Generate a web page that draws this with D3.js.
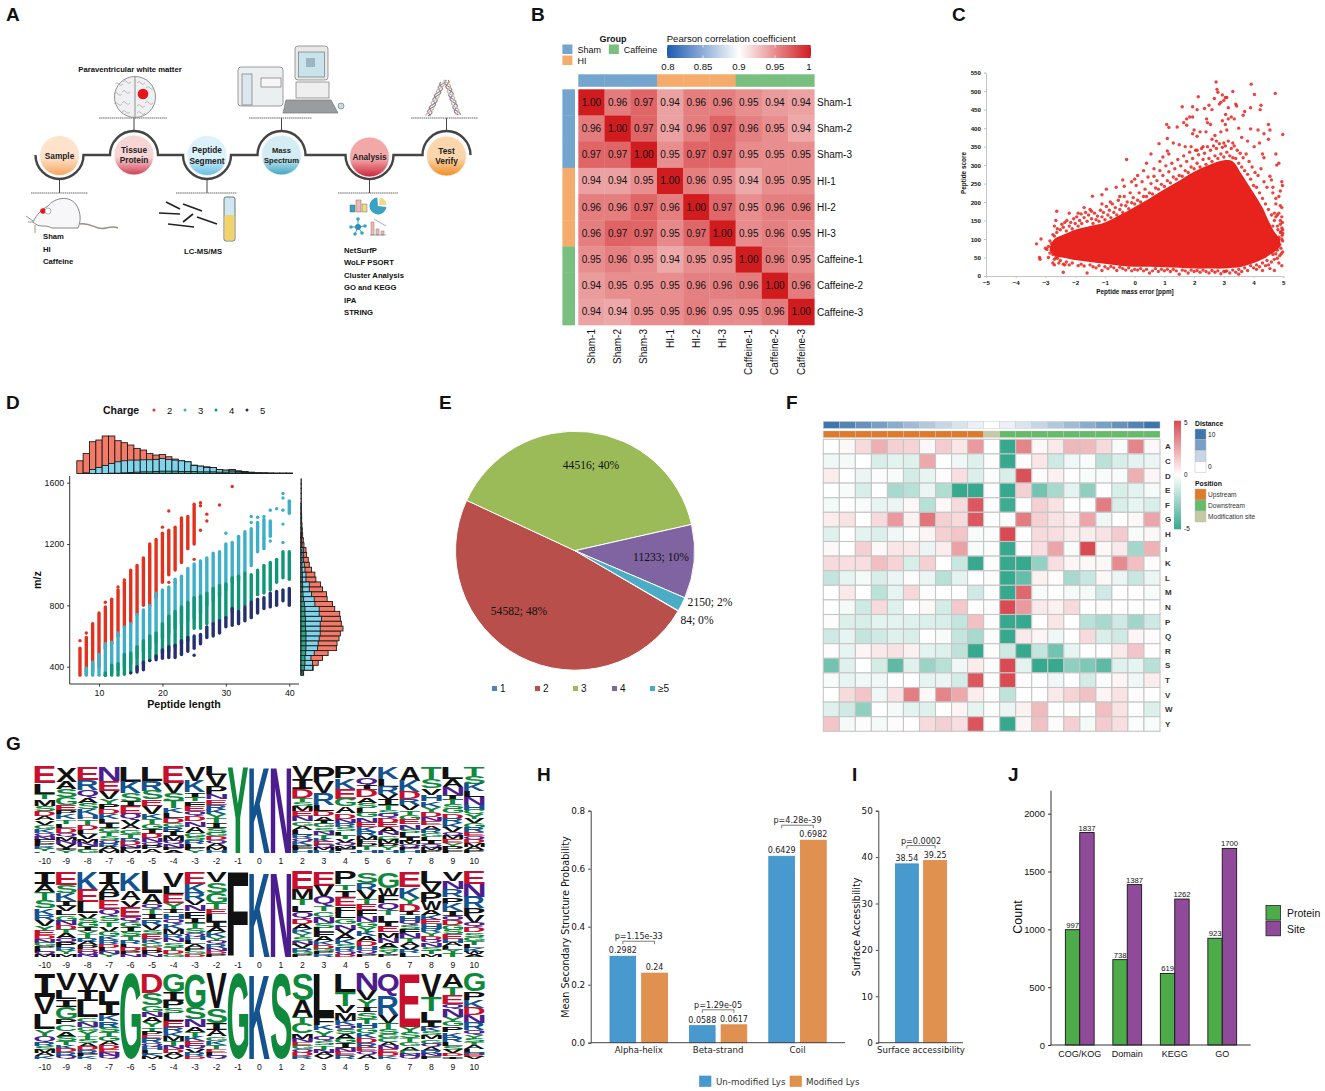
<!DOCTYPE html>
<html>
<head>
<meta charset="utf-8">
<script src="https://cdn.jsdelivr.net/npm/d3@7"></script>
<style>
  html, body { margin: 0; padding: 0; background: #fff; }
  svg { display: block; }
  text { font-family: "Liberation Sans", Arial, sans-serif; fill: #111; }
  .mpl text, text.mpl { font-family: "DejaVu Sans", sans-serif; }
</style>
</head>
<body>
<div id="chart"></div>
<script>
// ---- panel B: correlation matrix
const samples = ["Sham-1", "Sham-2", "Sham-3", "HI-1", "HI-2", "HI-3", "Caffeine-1", "Caffeine-2", "Caffeine-3"];
const sampleGroups = ["Sham", "Sham", "Sham", "HI", "HI", "HI", "Caffeine", "Caffeine", "Caffeine"];
const pearson = [
  [1, .958, .968, .942, .957, .957, .95, .944, .941],
  [.958, 1, .968, .942, .957, .969, .956, .95, .938],
  [.968, .968, 1, .95, .968, .968, .951, .95, .95],
  [.942, .942, .95, 1, .957, .952, .938, .95, .95],
  [.957, .957, .968, .957, 1, .967, .95, .956, .957],
  [.957, .969, .968, .952, .967, 1, .951, .956, .951],
  [.95, .956, .951, .938, .95, .951, 1, .958, .951],
  [.944, .95, .95, .95, .956, .956, .958, 1, .958],
  [.941, .938, .95, .95, .957, .951, .951, .958, 1]
];
const pearsonTicks = [0.8, 0.85, 0.9, 0.95, 1];

// ---- panel C: dense part read as an outline, stray points read one by one
const coreMassError = [-2.85, -2.7, -2.3, -2, -1.5, -1, -.5, 0, .5, 1, 1.5, 2, 2.5, 3, 3.3, 3.6, 4, 4.3, 4.5, 4.7, 4.9];
const coreUpper = [78, 100, 115, 125, 135, 145, 165, 187, 210, 235, 258, 282, 300, 313, 310, 275, 225, 185, 150, 120, 100];
const coreLower = [68, 55, 48, 43, 38, 33, 28, 25, 25, 24, 22, 20, 20, 20, 22, 25, 35, 45, 55, 65, 80];
const strayMassError = [2.74, 2.77, 2.8, 3.92, 4.03, 4.73, 3.3, 2.95, 3, 3.05, 3.1, 2.68, 2.9, 2.85, 3.4, 3.43, 1.6, 1.95, 2.14, 2.1, 2.35, 2.5, 2.6, 3.15, 3.06, 3.9, 4.25, 4.22, 3.7, 3.65, 1.85, 1.75, 1.65, 1.95, 2.42, 3.15, 3.25, 3.35, 2.95, 3.05, 1.08, 1.15, 1.43, 1.75, 2.45, 2.55, 4.5, 4.55, 4.5, 4.98, 2.2, 2, 1.95, 2.1, 2.4, 2.7, 2.9, 3.1, 3.5, 3.9, 4.15, 4.35, 4.2, 4.02, 3.8, 3.6, 3.3, 3, 2.75, 2.6, 2.3, 2.1, 1.9, 1.7, 1.5, 1.3, 1.1, .82, 1.1, 1.15, .95, .55, -.27, .85, .4, .65, .3, .1, 0, -.1, -.4, -.35, -.62, -.95, -1.1, -1.42, -.5, -.82, -1.1, -1.45, -1.7, -1.9, -2.2, -2.62, -2.65, -2.35, -2.7, -3.3, -3.15, -3, -3.2, -3.18, -2.9, -2.75, -2.7, -2.4, -2.35, -1.6, -1.4, -1.1, .5, 1.5, 2.5, 3.5, 3.05, 4.1, 4.3, 4.55, 4.7, 4.85, 4.95, 4.78, 4.85, 4.75, 4.3, 4.35, 4.95, 4.97, 4.9, 4.6, 4.65, 4.75, 4.85, 4.95, 4.9, 4.97, 4.9, 4.98, 4.92, 4.95, 4.85, 4.98, 4.7, 4.8];
const strayScore = [525, 505, 497, 519, 491, 494, 499, 490, 475, 483, 483, 480, 470, 465, 465, 460, 458, 458, 485, 450, 453, 462, 450, 455, 437, 455, 462, 450, 445, 435, 430, 425, 415, 430, 425, 425, 430, 425, 420, 410, 410, 402, 403, 408, 415, 410, 410, 395, 370, 383, 390, 395, 385, 378, 390, 380, 390, 395, 400, 398, 395, 385, 360, 350, 365, 375, 360, 360, 365, 370, 350, 340, 350, 350, 355, 360, 372, 358, 338, 330, 322, 330, 315, 310, 305, 290, 285, 272, 262, 255, 260, 243, 240, 235, 220, 216, 215, 200, 195, 175, 185, 170, 170, 175, 150, 145, 135, 87, 100, 75, 50, 45, 50, 35, 30, 10, 30, 8, 25, 15, 8, 5, 8, 5, 12, 18, 15, 20, 15, 35, 28, 300, 305, 330, 330, 320, 255, 245, 230, 260, 240, 210, 215, 185, 190, 145, 140, 115, 120, 100, 85, 65, 170, 165];
// speckled rim around the dense part [mass error, score]
const rimUpper = [[-2.75, 112], [-2.6, 128], [-2.62, 118], [-2.5, 125], [-2.45, 140], [-2.4, 132], [-2.3, 122], [-2.28, 150], [-2.2, 135], [-2.15, 145], [-2.1, 128], [-2.05, 155], [-2, 142], [-1.95, 160], [-1.9, 135], [-1.85, 150], [-1.8, 168], [-1.78, 142], [-1.7, 158], [-1.65, 172], [-1.6, 148], [-1.55, 165], [-1.5, 180], [-1.45, 155], [-1.4, 142], [-1.35, 170], [-1.3, 152], [-1.25, 162], [-1.2, 148], [-1.15, 178], [-1.1, 160], [-1.05, 172], [-1, 152], [-.95, 188], [-.9, 165], [-.85, 178], [-.8, 158], [-.75, 195], [-.7, 172], [-.65, 185], [-.6, 165], [-.55, 205], [-.5, 180], [-.45, 192], [-.4, 172], [-.35, 215], [-.3, 190], [-.25, 200], [-.2, 182], [-.15, 225], [-.1, 198], [-.05, 212], [0, 195], [.05, 245], [.1, 205], [.15, 225], [.2, 200], [.25, 255], [.3, 215], [.35, 235], [.4, 215], [.45, 268], [.5, 225], [.55, 250], [.6, 222], [.65, 270], [.7, 238], [.75, 258], [.8, 235], [.85, 285], [.9, 248], [.95, 272], [1, 242], [1.05, 298], [1.1, 258], [1.15, 282], [1.2, 252], [1.25, 305], [1.3, 268], [1.35, 290], [1.4, 262], [1.45, 315], [1.5, 272], [1.55, 298], [1.6, 270], [1.65, 325], [1.7, 285], [1.75, 310], [1.8, 280], [1.85, 335], [1.9, 295], [1.95, 318], [2, 290], [2.05, 340], [2.1, 305], [2.15, 328], [2.2, 295], [2.25, 345], [2.3, 315], [2.35, 332], [2.4, 302], [2.45, 350], [2.5, 318], [2.55, 340], [2.6, 310], [2.65, 352], [2.7, 325], [2.75, 345], [2.8, 318], [2.85, 358], [2.9, 330], [2.95, 348], [3, 322], [3.05, 352], [3.1, 335], [3.15, 365], [3.2, 325], [3.25, 345], [3.3, 320], [3.35, 352], [3.4, 318], [3.45, 340], [3.5, 305], [3.55, 332], [3.6, 295], [3.65, 320], [3.7, 285], [3.75, 330], [3.8, 275], [3.85, 310], [3.9, 262], [3.95, 295], [4, 245], [4.05, 280], [4.1, 240], [4.15, 272], [4.2, 225], [4.25, 290], [4.3, 210], [4.35, 255], [4.4, 195], [4.45, 240], [4.5, 180], [4.55, 270], [4.6, 165], [4.65, 225], [4.7, 150], [4.75, 195], [4.8, 135], [4.85, 170], [4.9, 118], [4.95, 160]];
const rimRight = [[4.55, 120], [4.6, 100], [4.65, 135], [4.7, 80], [4.72, 110], [4.75, 160], [4.78, 95], [4.8, 70], [4.82, 125], [4.85, 105], [4.88, 85], [4.9, 150], [4.92, 75], [4.95, 130], [4.96, 110], [4.98, 95], [4.98, 125], [4.93, 60], [4.88, 55], [4.8, 48], [4.75, 60], [4.7, 45], [4.65, 58]];
const rimLower = [[4.6, 38], [4.5, 30], [4.45, 42], [4.4, 28], [4.3, 35], [4.2, 25], [4.1, 30], [4, 22], [3.9, 28], [3.8, 15], [3.7, 22], [3.6, 12], [3.5, 18], [3.4, 10], [3.3, 16], [3.2, 8], [3.1, 14], [3, 12], [2.9, 6], [2.8, 14], [2.7, 10], [2.6, 15], [2.4, 12], [2.3, 16], [2.2, 10], [2.1, 15], [2, 12], [1.9, 16], [1.8, 8], [1.7, 14], [1.6, 16], [1.4, 14], [1.3, 18], [1.2, 12], [1.1, 18], [1, 14], [.9, 18], [.8, 12], [.7, 20], [.6, 14], [.4, 18], [.3, 14], [.2, 20], [.1, 16], [0, 18], [-.1, 14], [-.2, 22], [-.3, 16], [-.4, 20], [-.5, 24], [-.6, 15], [-.7, 22], [-.8, 26], [-.9, 20], [-1, 25], [-1.2, 28], [-1.3, 22], [-1.5, 30], [-1.7, 27], [-1.8, 32], [-1.9, 28], [-2.1, 35], [-2.2, 30], [-2.3, 38], [-2.4, 32], [-2.5, 42], [-2.55, 35], [-2.6, 48], [-2.7, 45]];
const rimLeft = [[-2.85, 95], [-2.8, 88], [-2.9, 80], [-2.85, 62], [-2.8, 70], [-2.75, 58], [-2.95, 72], [-2.65, 50], [-2.7, 108]];

// ---- panel D: m/z spread per peptide length and charge [length, low, high]
const charge2Ranges = [[7, 345, 520], [8, 350, 590], [9, 370, 680], [10, 400, 750], [11, 520, 790], [12, 550, 840], [13, 600, 900], [14, 660, 950], [15, 680, 1030], [16, 740, 1060], [17, 800, 1110], [18, 800, 1190], [19, 850, 1230], [20, 950, 1270], [21, 1000, 1290], [22, 1030, 1310], [23, 1080, 1370], [24, 1170, 1380], [25, 1200, 1460]];
const charge3Ranges = [[8, 345, 390], [9, 345, 430], [10, 345, 480], [11, 345, 550], [12, 360, 560], [13, 380, 620], [14, 400, 660], [15, 420, 680], [16, 460, 740], [17, 500, 770], [18, 520, 800], [19, 560, 880], [20, 590, 900], [21, 620, 920], [22, 650, 970], [23, 680, 990], [24, 700, 1040], [25, 720, 1070], [26, 750, 1090], [27, 800, 1110], [28, 830, 1140], [29, 860, 1150], [30, 900, 1200], [31, 950, 1210], [32, 960, 1250], [33, 1020, 1280], [34, 1060, 1300], [35, 1150, 1340], [36, 1170, 1360], [37, 1250, 1350], [40, 1400, 1480]];
const charge4Ranges = [[11, 345, 360], [12, 345, 410], [13, 345, 420], [14, 350, 480], [15, 360, 490], [16, 380, 530], [17, 420, 570], [18, 440, 600], [19, 460, 620], [20, 490, 680], [21, 500, 730], [22, 530, 760], [23, 550, 790], [24, 570, 820], [25, 650, 850], [26, 650, 860], [27, 680, 880], [28, 680, 910], [29, 700, 930], [30, 720, 940], [31, 760, 980], [32, 770, 990], [33, 800, 1010], [34, 830, 1000], [35, 870, 1030], [36, 880, 1060], [37, 900, 1080], [38, 950, 1100], [39, 980, 1150], [40, 970, 1150]];
const charge5Ranges = [[16, 365, 400], [17, 380, 430], [19, 445, 470], [20, 455, 510], [21, 460, 530], [22, 460, 540], [23, 480, 570], [24, 500, 590], [25, 520, 600], [26, 550, 610], [27, 590, 660], [28, 600, 680], [29, 620, 700], [30, 660, 720], [31, 670, 780], [32, 680, 760], [33, 700, 790], [34, 720, 820], [35, 750, 840], [36, 780, 850], [37, 790, 880], [38, 800, 890], [39, 830, 900], [40, 800, 910]];
const charge2Points = [[7, 570], [8, 620], [11, 820], [13, 920], [14, 965], [18, 1200], [20, 1310], [21, 1415], [21, 950], [22, 950], [25, 1100], [26, 1290], [26, 1470], [26, 1450], [27, 1350], [27, 1395], [29, 1455], [31, 1575]];
const charge3Points = [[30, 1270], [34, 1340], [34, 1380], [35, 1375], [36, 1380], [37, 1420], [38, 1430], [39, 1210], [39, 1330], [39, 1420], [39, 1500], [39, 1530], [40, 1480], [37, 1220], [36, 1240]];
const charge4Points = [[11, 345]];
const charge5Points = [[15, 360], [18, 440], [25, 475], [23, 485], [26, 600]];
const lengths = d3.range(7, 41);
const lengthCharge2 = [38, 60, 95, 100, 112, 112, 98, 92, 85, 75, 70, 60, 55, 57, 50, 43, 38, 35, 25, 22, 20, 18, 12, 10, 12, 8, 6, 4, 2, 2, 1, 1, 1, 1];
const lengthCharge3 = [0, 2, 12, 18, 24, 30, 35, 38, 40, 40, 41, 41, 42, 45, 42, 40, 38, 35, 24, 22, 18, 18, 12, 10, 10, 6, 4, 3, 2, 1, 1, 1, 1, 1];
const lengthCharge4 = [0, 0, 0, 0, 0, 1, 1, 2, 3, 4, 5, 5, 6, 7, 7, 7, 6, 6, 6, 5, 5, 5, 4, 4, 5, 4, 3, 2, 1, 1, 1, 0, 0, 0];
const mzBinStart = d3.range(345, 1600, 32);
const mzCharge2 = [8, 37, 52, 65, 82, 107, 109, 115, 119, 127, 122, 119, 117, 102, 95, 79, 77, 65, 59, 45, 42, 32, 25, 22, 17, 15, 9, 7, 5, 4, 3, 2, 2, 1, 1, 1, 1, 1, 1, 1];
const mzCharge3 = [6, 35, 35, 30, 40, 50, 52, 55, 58, 58, 58, 62, 55, 55, 42, 40, 32, 25, 25, 15, 15, 12, 10, 8, 8, 8, 3, 2, 2, 1, 1, 1, 1, 1, 1, 0, 0, 0, 0, 0];
const mzCharge4 = [3, 10, 12, 12, 14, 15, 15, 15, 15, 14, 13, 14, 12, 12, 10, 8, 6, 5, 5, 4, 4, 3, 3, 3, 3, 3, 1, 1, 1, 0, 0, 0, 0, 0, 0, 0, 0, 0, 0, 0];

// ---- panel E
const chargeLabels = ["1", "2", "3", "4", "≥5"];
const chargeCounts = [84, 54582, 44516, 11233, 2150];
const chargePercents = [0, 48, 40, 10, 2];

// ---- panel F: amino acid enrichment by position
const aminoAcids = ["A", "C", "D", "E", "F", "G", "H", "I", "K", "L", "M", "N", "P", "Q", "R", "S", "T", "V", "W", "Y"];
const distances = [10, 9, 8, 7, 6, 5, 4, 3, 2, 1, 0, 1, 2, 3, 4, 5, 6, 7, 8, 9, 10];
const positions = d3.range(10).map(() => "Upstream").concat(["Modification site"], d3.range(10).map(() => "Downstream"));
const enrichment = [
  [0, .2, 1, 2.2, 1.3, 1.2, .2, 1.4, .7, 2.8, 0, -5, 3.4, .2, .6, 2, 1.9, 1, -.2, 3.4, .2],
  [-.4, -.3, 0, -1, -.7, -.8, 2.4, 0, -.4, -.8, -.1, -5, 0, .7, -1.2, -.4, -.2, -1.7, -1, -.7, -.5],
  [.5, 0, -.5, -.1, -.2, -1.1, -.6, .1, .9, -.9, -.1, -1, 4.8, .1, .4, 0, -.2, -.2, -.2, 2.2, .3],
  [0, -.2, -1, 0, -2.2, -1.8, -.5, -2, -5, -5, -.1, -5, 1.3, -3.5, -2.2, -.7, -2.8, 0, -1, -.7, -.3],
  [-.3, 0, -.2, -.6, -.5, .2, -1.8, .2, 1, 4.6, -.1, -4.8, 0, 1.3, .8, 0, 0, 3.6, -1, -.6, -1],
  [.5, .8, 0, 1, 2.8, .4, 3.8, 1.3, 1, 4.6, -.1, -.1, 3.6, 1.3, .8, .5, 2.5, -.4, 0, .2, 2.5],
  [-.8, 0, -.7, -.9, -.4, -.1, .3, 1.3, 1.6, -.2, -.1, 5, 0, 1, .9, .5, .5, .8, 1.4, -.2, .2],
  [.2, 0, 1.3, .2, .7, .6, -.5, .5, 2.6, -.2, -.1, -5, .1, .9, 2.5, -.2, 5, .2, .6, -2.3, 2.1],
  [1, .9, .9, 1.8, 1.2, -1, 1.3, 0, -1.4, -5, -.1, -5, -5, -2.7, .9, .3, .2, .2, 3.2, 1.8, .1],
  [-1.5, -.6, -.3, -1, -.5, -.1, -.5, -1.8, -.7, 0, -.1, -5, -3.8, .4, .1, -2.2, -1.4, .2, -.5, -1.4, -.5],
  [0, .6, 0, -1.7, -.6, 1.1, -.1, 0, 0, -1.2, -.1, -5, 4.2, -.2, 0, -.3, -.3, -1.2, 0, 0, -.2],
  [0, -.3, -1.2, 1, -.8, 0, .2, -1.1, 1.5, 0, -.1, 5, 2.8, .6, .4, 1, 0, .1, 0, 0, 0],
  [-.1, -.9, -1, -.7, -.7, -.8, -.9, -1, -1.5, 1.7, -.1, -5, -5, 0, .7, 0, -1.7, -2.2, -1.2, -2.4, -1.2],
  [-1.2, -.6, -1.5, -1.2, -.8, -1, 0, -.2, -1.5, -2.2, -.1, -5, .6, .3, -.4, 0, 1, -1, -1.2, .3, .1],
  [.1, -.6, .3, .6, .8, .4, -.7, -.8, -1.6, -5, -.1, -1.2, -5, -1.5, -3.5, -.6, 0, 0, .6, 1.6, 0],
  [-3.5, -.8, 0, -1.1, -4, -.8, -2.5, -1.8, -.4, .5, -.1, 5, -.7, -5, -5, -2.8, -3.2, -4, -.8, -.6, -1.8],
  [-.2, -.6, -.4, -.4, 0, 0, -.6, -.5, -1.1, 4.6, -.1, 5, .1, 0, -.4, 0, -1.1, -.1, .3, -.4, .5],
  [0, 1, 1.6, -.4, .8, 3.6, .2, 3.4, 2.4, .5, -.1, -1.6, 0, 0, .6, 1.2, 1.7, .3, .8, .1, 0],
  [-.8, -1.2, -2.8, 0, -.3, -.7, -.8, 0, .3, -.6, -.1, -.5, .4, 1.9, 0, -.1, 0, 1.8, .8, 0, -.9],
  [1.6, -.3, .1, -.3, .1, 0, 1, 1.3, .9, 4.7, 0, -5, .3, 1.7, .1, 1.3, -.3, 1.4, .9, -.1, -.2]
];

// ---- panel G: motif logos, each column top to bottom as letter + relative height
const logoPositions = d3.range(-10, 11);
const logoYKN = ["E19 L12 T6 M8 S6 D6 A5 V5 G5 K5 Q4 N4 F4 P3 R3 Y3 H2", "X17 A9 S9 G9 E6 P5 K6 T5 L5 D6 Q4 M5 N4 V4 I3 Y3", "E15 R12 Q9 A6 S7 K7 H5 T6 D6 L5 V6 M4 N4 I4 G4", "N17 E12 V9 Y6 P6 D6 K6 L5 I5 G5 T5 S5 Q4 R4 A4 M3", "L17 K13 S10 I5 E8 Q7 V6 A5 G5 T5 R4 D4 N3 P3 M3", "L16 R11 S10 E7 V9 K6 T6 G6 I5 D5 N5 Q4 P4 A4", "E18 V11 S9 T8 K6 L5 D6 G5 R5 I5 M5 Q4 N4 P3 A3", "V15 K13 I6 T4 F6 E5 Q5 D6 N6 A7 G4 S4 R4 L4 P3 Y3", "L9 V12 P8 N6 E6 R5 K5 Y5 T5 I5 S5 G4 D4 Q4 A4 M3 H3", "Y100", "K100", "N100", "V14 I11 D10 T5 S5 M5 E6 N6 G5 A5 L5 R4 Q4 K4 P3 F3 H3", "P18 V13 R14 L7 D6 A5 I4 G4 S5 N4 T4 K4 E4 Q3 M3 H3", "P13 K12 E12 G9 A8 D6 N5 R5 S5 L5 T4 V4 Q4 M3 F3 H2", "V11 Q10 I5 D8 A6 S6 L5 G5 N6 E5 K5 R5 M4 F4 P4 T4 H3", "K13 L9 R8 V6 I7 T5 S5 Q5 D5 E5 A5 N4 G5 M4 P4 Y4 H3", "A16 K13 D8 R7 V6 T5 G6 E5 N6 S4 L5 I4 M4 Q4 P3 H3", "T14 S11 V8 H7 K6 Y6 D6 N5 E5 A5 R4 G4 L5 I4 Q4 M3 P3", "L13 A9 N9 I5 T5 S5 G5 D6 R5 K5 V5 Q4 M4 E4 Y4 P4 F3", "T10 S9 K8 L7 N8 H6 C5 Y5 V5 G5 R5 E4 Q4 D4 M4 A4 P3"];
const logoFKN = ["I13 A9 T9 S9 K7 R6 V7 Y5 E5 D4 N4 G4 P3 L3 Q3 M3", "E15 S9 K9 I5 V6 L5 G6 N5 D5 T5 A5 Q5 P5 R4 Y4 M3", "K20 E14 L12 V6 S5 G5 I4 Y4 T4 R4 A4 P4 D3 Q3 N3", "I13 A9 P8 E10 Q7 S6 T6 V5 G5 K4 R4 D4 L4 N3 Y3", "K20 A10 V7 E11 Q6 G5 I5 S5 T4 R4 L4 D4 P3 N3", "L24 A12 Q6 T6 I6 R6 V6 S5 E5 K5 G5 D4 P4 N3", "V14 L7 E9 Y6 I4 H5 Q5 K5 M5 R4 N4 S4 T4 D3 G3", "E12 K9 R8 V5 N6 F7 I5 T5 S5 Q4 H4 L4 A4 P3 G3 D3", "V10 S11 G10 T6 E5 L8 I5 A5 K5 Y4 Q3 R4 N3 D3 P3", "F100", "K100", "N100", "E20 M12 T7 L8 Q7 D6 A6 K5 Y5 S5 N4 V4 R4 G3 P3", "E15 V12 Q10 T6 C6 N7 S5 L5 F5 A5 K4 D4 G3 P3 R3", "P13 T6 I8 E9 F7 L6 G6 N6 V5 A5 K5 S4 R4 Q3 D3", "S11 R8 V9 T5 E6 F6 N6 G5 Y5 K5 A5 D5 H4 Q4 P3", "G17 W8 F8 Q8 T5 L7 I5 E6 M6 N5 A5 S4 Y3 P3", "E17 K12 Y7 D9 I4 H6 Q5 S5 F5 N5 T5 A4 V4 R4 L4", "L12 V10 P11 W9 A5 K5 E5 H5 R4 Y4 D4 Q4 N4 S4 T4 M3", "V10 N9 R9 P7 K8 I6 Q5 D5 G5 S5 E5 H4 A4 L4 Y4 T4", "E14 N14 R13 P9 V8 Q5 D6 S5 G5 T4 L4 K4 W3 A3"];
const logoGKS = ["I27 V20 L18 Y8 Q7 R5 S4 M4 A4 K3", "V17 L10 I8 G13 P6 C7 A6 S5 T4 K4 D4 R4 Q3", "V18 I13 L18 C5 N6 G5 Y5 T4 S4 A4 D4 R4 F3 K3", "V19 L12 I13 K7 R7 S5 T5 G5 A4 D4 E4 N4 Q3", "G100", "D22 S14 G7 N6 A6 Y6 T5 P4 E4 R5 Q4 H4 L4 K3 M3", "G20 I10 P8 S6 L8 E7 R6 K5 M5 T5 N4 D4 A4 V3", "G38 S13 N8 A6 T5 K5 E5 Q4 V4 R4 D3", "V39 S17 I8 A7 G5 K5 T5 E4 L4 Q3", "G100", "K100", "S100", "S30 A19 T7 C12 M6 N4 E4 G4 Q4 D4 R3", "L50 F9 K6 Y8 Q5 S5 T5 N4 A4 V3", "L20 T15 V8 M8 K5 Q5 S5 A5 G5 I5 N4 E4 R4", "N17 V10 Y8 I5 S7 T5 H5 G5 K5 D5 R5 E4 Q4 A4", "Q25 R22 V9 T7 S6 G5 C5 A4 N4 E4 D4 K3", "E62 Y6 S7 T5 G5 A5 C4 N3 Q3", "V27 T17 L12 I6 K5 S5 M5 G5 Q4 A4 R4 N3 F3", "A14 T8 E10 Q6 N8 Y5 G5 P6 K6 R5 L4 S4 V4 D3 I3", "G20 P9 K9 D8 N9 R8 Q6 Y4 S4 T4 A4 L4 H3 E2 V2"];

// ---- panels H, I, J
const structureTypes = ["Alpha-helix", "Beta-strand", "Coil"];
const unmodifiedProb = [0.2982, 0.0588, 0.6429];
const modifiedProb = [0.24, 0.0617, 0.6982];
const structurePvalues = ["p=1.15e-33", "p=1.29e-05", "p=4.28e-39"];
const unmodifiedAccess = [38.54];
const modifiedAccess = [39.25];
const accessPvalues = ["p=0.0002"];
const databases = ["COG/KOG", "Domain", "KEGG", "GO"];
const proteinCounts = [997, 738, 619, 923];
const siteCounts = [1837, 1387, 1262, 1700];

const svg = d3.select("#chart").append("svg").attr("width", 1325).attr("height", 1091).attr("viewBox", "0 0 1325 1091");
const defs = svg.append("defs");

function label(parent, x, y, str, size, opts = {}) {
  return parent.append("text").attr("x", x).attr("y", y).text(str)
    .attr("font-size", size)
    .attr("font-weight", opts.bold ? "bold" : null)
    .attr("text-anchor", opts.anchor || "start")
    .attr("class", opts.cls || null);
}

function vLabel(parent, x, y, str, size, opts = {}) {
  return parent.append("text").attr("transform", `translate(${x},${y}) rotate(-90)`).text(str)
    .attr("font-size", size)
    .attr("font-weight", opts.bold ? "bold" : null)
    .attr("text-anchor", opts.anchor || "middle")
    .attr("class", opts.cls || null);
}

// panel letters
[["A", 6, 21], ["B", 531, 21], ["C", 952, 21], ["D", 6, 409], ["E", 439, 409], ["F", 786, 409], ["G", 6, 750], ["H", 537, 781], ["I", 852, 781], ["J", 1008, 781]]
  .forEach(d => label(svg, d[1], d[2], d[0], 19, { bold: true }));

drawWorkflow(svg.append("g"));
drawCorrelation(svg.append("g"));
drawScoreScatter(svg.append("g"));
drawLengthScatter(svg.append("g"));
drawPie(svg.append("g"));
drawEnrichment(svg.append("g"));
drawLogos(svg.append("g"));
drawStructureBars(svg.append("g").attr("class", "mpl"));
drawCountBars(svg.append("g"));

/* Panel A - workflow schematic */
function drawWorkflow(g) {
  const steps = [
    { name: ["Sample"], x: 59.5, y: 155.5, c: ["#fde3cc", "#f6a45c"], down: true, dash: [31, 88] },
    { name: ["Tissue", "Protein"], x: 134, y: 155, c: ["#f8d5d5", "#cf3f55"], down: false, dash: [99, 167] },
    { name: ["Peptide", "Segment"], x: 207, y: 155.5, c: ["#dcf2fb", "#64bde3"], down: true, dash: [176, 237] },
    { name: ["Mass", "Spectrum"], x: 281.5, y: 155, c: ["#d4edf4", "#3ea6c2"], down: false, dash: [249, 312] },
    { name: ["Analysis"], x: 369.5, y: 157, c: ["#f3a8a8", "#c9243a"], down: true, dash: [338, 398] },
    { name: ["Test", "Verify"], x: 446.5, y: 156, c: ["#fbd6ad", "#f18d24"], down: false, dash: [411, 478] }
  ];
  // track: half circles joined by straight pieces
  let d = "";
  steps.forEach((s, i) => {
    const r = 24;
    d += `${i ? "L" : "M"}${s.x - r},155 A${r},${r} 0 0 ${s.down ? 0 : 1} ${s.x + r},155 `;
  });
  g.append("path").attr("d", d).attr("fill", "none").attr("stroke", "#444").attr("stroke-width", 2.4);

  steps.forEach((s, i) => {
    const grad = defs.append("linearGradient").attr("id", "step" + i).attr("x1", 0).attr("x2", 0).attr("y1", 0).attr("y2", 1);
    grad.append("stop").attr("offset", "0%").attr("stop-color", s.c[0]);
    grad.append("stop").attr("offset", "55%").attr("stop-color", s.c[0]);
    grad.append("stop").attr("offset", "100%").attr("stop-color", s.c[1]);
    g.append("circle").attr("cx", s.x).attr("cy", s.y).attr("r", 20).attr("fill", `url(#step${i})`).attr("stroke", "#fff").attr("stroke-width", .8);
    const y0 = s.down ? 179 : 131, y1 = s.down ? 193 : 118;
    g.append("line").attr("x1", s.x).attr("x2", s.x).attr("y1", y0).attr("y2", y1).attr("stroke", "#444").attr("stroke-width", 1);
    g.append("line").attr("x1", s.dash[0]).attr("x2", s.dash[1]).attr("y1", y1).attr("y2", y1)
      .attr("stroke", "#666").attr("stroke-width", 1).attr("stroke-dasharray", "1.5 .6");
    s.name.forEach((t, k) => {
      const size = s.name[0] === "Mass" ? 7.6 : 8.3;
      const yy = s.y + 3 + (k - (s.name.length - 1) / 2) * 10.5;
      label(g, s.x, yy, t, size, { bold: true, anchor: "middle" }).style("fill", "#222");
    });
  });

  label(g, 130, 72, "Paraventricular white matter", 7.7, { bold: true, anchor: "middle" });
  [["Sham", 239], ["HI", 252], ["Caffeine", 264]].forEach(t => label(g, 43, t[1], t[0], 7.7, { bold: true }));
  label(g, 184, 254, "LC-MS/MS", 7.7, { bold: true });
  ["NetSurfP", "WoLF PSORT", "Cluster Analysis", "GO and KEGG", "IPA", "STRING"]
    .forEach((t, i) => label(g, 344, 253 + i * 12.4, t, 7.7, { bold: true }));

  // brain
  const brain = g.append("g");
  brain.append("ellipse").attr("cx", 135).attr("cy", 97).attr("rx", 20.5).attr("ry", 20.5).attr("fill", "#f0f0f2").attr("stroke", "#777").attr("stroke-width", .8);
  brain.append("line").attr("x1", 135).attr("x2", 135).attr("y1", 77).attr("y2", 117).attr("stroke", "#666").attr("stroke-width", .7);
  [[120, 84], [128, 82], [119, 94], [127, 92], [119, 104], [127, 103], [142, 83], [151, 88], [142, 106], [150, 103], [127, 112], [142, 113]].forEach(p => {
    brain.append("path").attr("d", `M${p[0] - 5},${p[1]} q2,-3 4,0 t4,0`).attr("fill", "none").attr("stroke", "#999").attr("stroke-width", .6);
  });
  brain.append("circle").attr("cx", 143).attr("cy", 94).attr("r", 5.3).attr("fill", "#e8141c");

  // rat
  const rat = g.append("g");
  rat.append("path").attr("d", "M80,224 C92,222 96,231 106,228 C110,227 114,226 118,228").attr("fill", "none").attr("stroke", "#9b8f84").attr("stroke-width", 1.4);
  rat.append("path").attr("d", "M33,222 C37,214 42,209 48,206 C54,198 70,194 77,206 C81,213 81,222 78,228 L52,228 C48,226 46,226 42,226 C38,226 35,224 33,222 Z")
    .attr("fill", "#f7f7f9").attr("stroke", "#555").attr("stroke-width", .7);
  rat.append("path").attr("d", "M33,221 L26,216 M33,222 L28,222 M35,225 L35,233").attr("stroke", "#555").attr("stroke-width", .6).attr("fill", "none");
  rat.append("circle").attr("cx", 43).attr("cy", 211).attr("r", 2.8).attr("fill", "#e8141c");
  rat.append("circle").attr("cx", 48).attr("cy", 211).attr("r", 3).attr("fill", "#fff").attr("stroke", "#777").attr("stroke-width", .5);

  // peptides and tube
  [[166, 202, 180, 209], [183, 204, 202, 211], [159, 213, 180, 214], [183, 222, 193, 214], [197, 217, 217, 224], [168, 224, 194, 227]].forEach(l => {
    g.append("line").attr("x1", l[0]).attr("y1", l[1]).attr("x2", l[2]).attr("y2", l[3]).attr("stroke", "#222").attr("stroke-width", 1.7);
  });
  g.append("rect").attr("x", 224).attr("y", 197).attr("width", 11).attr("height", 44).attr("rx", 2).attr("fill", "#cfe7f1").attr("stroke", "#555").attr("stroke-width", .8);
  g.append("rect").attr("x", 224.5).attr("y", 215).attr("width", 10).attr("height", 25.5).attr("rx", 2).attr("fill", "#f2d36a");

  // mass spectrometer and computer
  const ms = g.append("g").attr("stroke", "#777").attr("stroke-width", .7);
  ms.append("rect").attr("x", 238).attr("y", 67).attr("width", 45).attr("height", 39).attr("rx", 3).attr("fill", "#eceff0");
  ms.append("rect").attr("x", 242).attr("y", 74).attr("width", 10).attr("height", 31).attr("fill", "#dbe7ec");
  ms.append("rect").attr("x", 261).attr("y", 78).attr("width", 20).attr("height", 9).attr("fill", "#f7f7f7");
  ms.append("rect").attr("x", 295).attr("y", 46).attr("width", 33).attr("height", 34).attr("rx", 3).attr("fill", "#e8e8e8");
  ms.append("rect").attr("x", 298.5).attr("y", 52).attr("width", 26).attr("height", 25).attr("fill", "#c9e3ec");
  ms.append("rect").attr("x", 306).attr("y", 58).attr("width", 9).attr("height", 9).attr("fill", "#9db5bf").attr("stroke", "none");
  ms.append("rect").attr("x", 296).attr("y", 82).attr("width", 33).attr("height", 16).attr("fill", "#efefef");
  ms.append("path").attr("d", "M286,100 L331,100 L338,113 L283,113 Z").attr("fill", "#9a9d9f");
  ms.append("circle").attr("cx", 341).attr("cy", 106).attr("r", 3).attr("fill", "#bfe0ea");

  // DNA strands
  const strand = (x0, y0, x1, y1, col, phase) => {
    const pts = d3.range(0, 1.01, .04).map(t => {
      const w = 2.6 * Math.sin(t * 18 + phase);
      return [x0 + (x1 - x0) * t + w, y0 + (y1 - y0) * t];
    });
    g.append("path").attr("d", d3.line()(pts)).attr("fill", "none").attr("stroke", col).attr("stroke-width", 1.1);
  };
  [["#b5617a", 0], ["#6a8fb0", 2], ["#c9b78d", 4]].forEach(s => {
    strand(428, 116, 443, 82, s[0], s[1]);
    strand(446, 80, 458, 115, s[0], s[1] + 1);
  });

  // analysis icons
  const icons = g.append("g");
  [[350, 205, 5, 7, "#38a3c4"], [356, 200, 5, 12, "#f2b9b2"], [362, 204, 5, 8, "#f1d98a"]].forEach(b => {
    icons.append("rect").attr("x", b[0]).attr("y", b[1]).attr("width", b[2]).attr("height", b[3]).attr("fill", b[4]).attr("stroke", "#555").attr("stroke-width", .4);
  });
  icons.append("path").attr("d", d3.arc()({ innerRadius: 0, outerRadius: 8.5, startAngle: 1.7, endAngle: 6.2 })).attr("transform", "translate(378,206)").attr("fill", "#38a3c4");
  icons.append("path").attr("d", d3.arc()({ innerRadius: 0, outerRadius: 7.5, startAngle: 0.1, endAngle: 1.6 })).attr("transform", "translate(379,205)").attr("fill", "#f1d98a");
  [[351, 227], [358, 219], [365, 226], [355, 234], [362, 233]].forEach(p => {
    icons.append("line").attr("x1", 358).attr("y1", 227).attr("x2", p[0]).attr("y2", p[1]).attr("stroke", "#38a3c4").attr("stroke-width", 1);
    icons.append("circle").attr("cx", p[0]).attr("cy", p[1]).attr("r", 1.8).attr("fill", "#38a3c4");
  });
  icons.append("circle").attr("cx", 358).attr("cy", 227).attr("r", 3).attr("fill", "#2a8fb0");
  [[371, 222, 3, 13, "#f2b9b2"], [376, 229, 3, 6, "#f2b9b2"], [381, 231, 3, 4, "#f2b9b2"]].forEach(b => {
    icons.append("rect").attr("x", b[0]).attr("y", b[1]).attr("width", b[2]).attr("height", b[3]).attr("fill", b[4]).attr("stroke", "#666").attr("stroke-width", .4);
  });
  icons.append("path").attr("d", "M370,235 L386,235 M374,219 L386,226").attr("stroke", "#777").attr("stroke-width", .6);
}

/* Panel B - Pearson correlation heatmap */
function drawCorrelation(g) {
  const x = d3.scaleBand().domain(samples).range([578.3, 814.3]);
  const y = d3.scaleBand().domain(samples).range([89.3, 325]);
  const color = d3.scaleLinear().domain([0.8, 0.9, 1]).range(["#1d5bb0", "#ffffff", "#d01c1f"]);
  const groupColor = d3.scaleOrdinal().domain(["Sham", "HI", "Caffeine"]).range(["#73a5cf", "#f5ab6b", "#78bf80"]);

  pearson.forEach((row, i) => row.forEach((v, j) => {
    g.append("rect").attr("x", x(samples[j])).attr("y", y(samples[i])).attr("width", x.bandwidth() + .3).attr("height", y.bandwidth() + .3).attr("fill", color(v));
    label(g, x(samples[j]) + x.bandwidth() / 2, y(samples[i]) + y.bandwidth() / 2 + 3.5, v.toFixed(2), 10, { anchor: "middle" });
  }));

  samples.forEach((s, i) => {
    g.append("rect").attr("x", x(s)).attr("y", 74.3).attr("width", x.bandwidth() + .3).attr("height", 12.5).attr("fill", groupColor(sampleGroups[i]));
    g.append("rect").attr("x", 562.4).attr("y", y(s)).attr("width", 12.6).attr("height", y.bandwidth() + .3).attr("fill", groupColor(sampleGroups[i]));
    label(g, 817, y(s) + y.bandwidth() / 2 + 3.6, s, 10);
    vLabel(g, x(s) + x.bandwidth() / 2 + 3.5, 329, s, 10, { anchor: "end" });
  });

  // legends
  label(g, 613, 42, "Group", 9, { bold: true, anchor: "middle" });
  [["Sham", 562.4, 44.5], ["HI", 562.4, 55.5], ["Caffeine", 608.8, 44.5]].forEach(d => {
    g.append("rect").attr("x", d[1]).attr("y", d[2]).attr("width", 10).attr("height", 9.5).attr("fill", groupColor(d[0]));
    label(g, d[1] + 15, d[2] + 8, d[0], 9);
  });
  label(g, 666.7, 42, "Pearson correlation coefficient", 9.6);
  const bar = d3.scaleLinear().domain([0.8, 1]).range([667, 811]);
  const barGrad = defs.append("linearGradient").attr("id", "pearsonBar");
  [0.8, 0.9, 1].forEach(v => barGrad.append("stop").attr("offset", (bar(v) - 667) / 144).attr("stop-color", color(v)));
  g.append("rect").attr("x", 667).attr("y", 45).attr("width", 144).attr("height", 13).attr("fill", "url(#pearsonBar)");
  pearsonTicks.forEach(t => {
    g.append("line").attr("x1", bar(t)).attr("x2", bar(t)).attr("y1", 45).attr("y2", 47.5).attr("stroke", "#fff").attr("stroke-width", .7);
    g.append("line").attr("x1", bar(t)).attr("x2", bar(t)).attr("y1", 55.5).attr("y2", 58).attr("stroke", "#fff").attr("stroke-width", .7);
    const tx = t === 1 ? bar(t) - 2 : bar(t) + (t === 0.8 ? 1 : 0);
    label(g, tx, 70, String(t), 9.6, { anchor: "middle" });
  });
}

/* Panel C - peptide score vs mass error */
function drawScoreScatter(g) {
  const x = d3.scaleLinear().domain([-5, 5]).range([986, 1283.3]);
  const y = d3.scaleLinear().domain([0, 550]).range([276, 72.7]);
  const red = "#e8221c";

  const core = d3.area().curve(d3.curveCatmullRom)
    .x((d, i) => x(coreMassError[i])).y1((d, i) => y(coreUpper[i])).y0((d, i) => y(coreLower[i]))(coreMassError);
  g.append("path").attr("d", core).attr("fill", red);

  const strays = strayScore.map((s, i) => [strayMassError[i], s]).concat(rimUpper, rimRight, rimLower, rimLeft);
  g.selectAll("circle.stray").data(strays).enter().append("circle").attr("class", "stray")
    .attr("cx", d => x(d[0])).attr("cy", d => y(d[1])).attr("r", 1.7)
    .attr("fill", red).attr("fill-opacity", .85);

  const axX = g.append("g").attr("transform", "translate(0,276)").call(d3.axisBottom(x).ticks(10).tickSize(2).tickFormat(d3.format("d")));
  const axY = g.append("g").attr("transform", "translate(986,0)").call(d3.axisLeft(y).tickValues(d3.range(0, 551, 50)).tickSize(2));
  [axX, axY].forEach(a => {
    a.selectAll("text").attr("font-size", 6.2).attr("font-weight", "bold").attr("font-family", "Liberation Sans");
    a.selectAll("path,line").attr("stroke", "#c4c4c4");
  });
  vLabel(g, 966, 173, "Peptide score", 6.4, { bold: true });
  label(g, 1135, 294, "Peptide mass error [ppm]", 6.4, { bold: true, anchor: "middle" });
}

/* Panel D - m/z vs peptide length with marginal histograms */
function drawLengthScatter(g) {
  const x = d3.scaleLinear().domain([10, 40]).range([99, 289.3]);
  const y = d3.scaleLinear().domain([400, 1600]).range([666.7, 482.7]);
  const colors = { 2: "#e2311d", 3: "#3eafc9", 4: "#0f9678", 5: "#26306f" };
  const layers = [[2, charge2Ranges, charge2Points], [3, charge3Ranges, charge3Points], [4, charge4Ranges, charge4Points], [5, charge5Ranges, charge5Points]];

  layers.forEach(l => {
    g.selectAll(null).data(l[1]).enter().append("line")
      .attr("x1", d => x(d[0])).attr("x2", d => x(d[0])).attr("y1", d => y(d[1])).attr("y2", d => y(d[2]))
      .attr("stroke", colors[l[0]]).attr("stroke-width", 3.4).attr("stroke-linecap", "round");
    g.selectAll(null).data(l[2]).enter().append("circle")
      .attr("cx", d => x(d[0])).attr("cy", d => y(d[1])).attr("r", 1.7).attr("fill", colors[l[0]]);
  });

  const axX = g.append("g").attr("transform", "translate(0,684)").call(d3.axisBottom(x).tickValues([10, 20, 30, 40]).tickSize(2.5));
  const axY = g.append("g").attr("transform", "translate(69.7,0)").call(d3.axisLeft(y).tickValues([400, 800, 1200, 1600]).tickSize(2.5).tickFormat(d3.format("d")));
  axX.select(".domain").attr("d", "M69.7,0H299");
  axY.select(".domain").attr("d", "M0,476V684");
  [axX, axY].forEach(a => {
    a.selectAll("text").attr("font-size", 8.8).attr("font-family", "Liberation Sans");
    a.selectAll("path,line").attr("stroke", "#333").attr("stroke-width", 1);
  });
  label(g, 184, 708, "Peptide length", 10.7, { bold: true, anchor: "middle" });
  vLabel(g, 41, 580, "m/z", 10.7, { bold: true });

  // legend
  label(g, 103, 414, "Charge", 10.5, { bold: true });
  [[2, 154, 167], [3, 185, 198], [4, 216, 229], [5, 247, 260]].forEach(d => {
    g.append("circle").attr("cx", d[1]).attr("cy", 410).attr("r", 1.5).attr("fill", colors[d[0]]);
    label(g, d[2], 414, d[0], 9.5);
  });

  // top marginal, bars per length, not stacked
  const hTop = d3.scaleLinear().domain([0, 112]).range([473.5, 436]);
  const fills = ["#f27a66", "#7fd3ea", "#27a88c"];
  [lengthCharge2, lengthCharge3, lengthCharge4].forEach((vals, k) => {
    g.selectAll(null).data(vals).enter().append("rect")
      .attr("x", (d, i) => x(lengths[i]) - 3.17).attr("width", 6.34)
      .attr("y", d => hTop(d)).attr("height", d => hTop(0) - hTop(d))
      .attr("fill", fills[k]).attr("stroke", "#1c1c1c").attr("stroke-width", .9);
  });

  // right marginal, bars per m/z bin
  const hRight = d3.scaleLinear().domain([0, 127]).range([301, 343]);
  [mzCharge2, mzCharge3, mzCharge4].forEach((vals, k) => {
    g.selectAll(null).data(vals).enter().append("rect")
      .attr("x", 301).attr("width", d => hRight(d) - 301)
      .attr("y", (d, i) => y(mzBinStart[i] + 32)).attr("height", y(345) - y(377))
      .attr("fill", fills[k]).attr("stroke", "#1c1c1c").attr("stroke-width", .9);
  });
}

/* Panel E - charge state pie */
function drawPie(g) {
  const colors = ["#4f81bd", "#b94f4a", "#9bbb59", "#8064a2", "#4bacc6"];
  const start = 120.1 * Math.PI / 180;
  const pie = d3.pie().sort(null).startAngle(start).endAngle(start + 2 * Math.PI);
  const arc = d3.arc().innerRadius(0).outerRadius(119.5);
  const c = g.append("g").attr("transform", "translate(575,550.7)");
  c.selectAll("path").data(pie(chargeCounts)).enter().append("path")
    .attr("d", arc).attr("fill", (d, i) => colors[i]).attr("stroke", "#fff").attr("stroke-width", 1);

  // label anchors differ per slice, as they were placed by hand in the source figure
  const spots = [[697, 624], [519, 615], [591, 469], [661, 561], [710, 606]];
  chargeCounts.forEach((v, i) => {
    label(g, spots[i][0], spots[i][1], `${v}; ${chargePercents[i]}%`, 11.6, { anchor: "middle" }).style("font-family", "Liberation Serif");
  });
  const legendX = d3.scaleOrdinal().domain(chargeLabels).range([492, 535, 573, 612, 650]);
  chargeLabels.forEach((t, i) => {
    g.append("rect").attr("x", legendX(t)).attr("y", 686).attr("width", 5).attr("height", 5).attr("fill", colors[i]);
    label(g, legendX(t) + 8, 692, t, 10);
  });
}

/* Panel F - enrichment heatmap */
function drawEnrichment(g) {
  const x = d3.scaleBand().domain(d3.range(21)).range([823.3, 1160]);
  const y = d3.scaleBand().domain(aminoAcids).range([439.3, 731.3]);
  const color = d3.scaleLinear().domain([-5, 0, 5]).range(["#36a98f", "#ffffff", "#d94a52"]).clamp(true);
  const distColor = d3.scaleLinear().domain([0, 10]).range(["#ffffff", "#3e76ab"]);
  const posColor = d3.scaleOrdinal().domain(["Upstream", "Downstream", "Modification site"]).range(["#dd7a2b", "#66bb6a", "#c5c9a5"]);

  aminoAcids.forEach((a, i) => {
    enrichment[i].forEach((v, j) => {
      g.append("rect").attr("x", x(j)).attr("y", y(a)).attr("width", x.bandwidth()).attr("height", y.bandwidth())
        .attr("fill", color(v)).attr("stroke", "#c6c6c6").attr("stroke-width", 1.1);
    });
    label(g, 1165, y(a) + y.bandwidth() / 2 + 2.8, a, 8, { bold: true }).style("fill", "#333");
  });
  distances.forEach((d, j) => {
    g.append("rect").attr("x", x(j)).attr("y", 421.5).attr("width", x.bandwidth()).attr("height", 6.8).attr("fill", distColor(d)).attr("stroke", "#ccc").attr("stroke-width", .5);
    g.append("rect").attr("x", x(j)).attr("y", 431).attr("width", x.bandwidth()).attr("height", 6.5).attr("fill", posColor(positions[j])).attr("stroke", "#ccc").attr("stroke-width", .3);
  });

  // colour bar
  const bar = d3.scaleLinear().domain([5, -5]).range([420.7, 529.3]);
  const grad = defs.append("linearGradient").attr("id", "enrichBar").attr("x1", 0).attr("x2", 0).attr("y1", 0).attr("y2", 1);
  [5, 0, -5].forEach((v, i) => grad.append("stop").attr("offset", i / 2).attr("stop-color", color(v)));
  g.append("rect").attr("x", 1174).attr("y", bar(5)).attr("width", 7).attr("height", bar(-5) - bar(5)).attr("fill", "url(#enrichBar)");
  [5, 0, -5].forEach(v => label(g, 1184, bar(v) + (v === 5 ? 4 : v === 0 ? 2 : 2), v, 6.4));

  // legends
  label(g, 1195, 426, "Distance", 6.8, { bold: true });
  [10, 7, 3, 0].forEach((d, i) => {
    g.append("rect").attr("x", 1195).attr("y", 429 + i * 10.8).attr("width", 11).attr("height", 10.8)
      .attr("fill", distColor(d)).attr("stroke", "#bbb").attr("stroke-width", .5);
  });
  label(g, 1208, 437, "10", 6.6);
  label(g, 1208, 469, "0", 6.6);
  label(g, 1195, 486, "Position", 6.8, { bold: true });
  posColor.domain().forEach((p, i) => {
    g.append("rect").attr("x", 1195).attr("y", 489 + i * 11).attr("width", 11).attr("height", 11)
      .attr("fill", posColor(p)).attr("stroke", "#bbb").attr("stroke-width", .4);
    label(g, 1208, 497 + i * 11, p, 6.6).style("fill", "#333");
  });
}

/* Panel G - sequence logos, letters stretched to their share of the column */
function drawLogos(g) {
  const ctx = document.createElement("canvas").getContext("2d");
  const metrics = {};
  // the I in the source logos has serifs, a mono bold gives that shape
  const fontOf = ch => ch === "I" ? "Liberation Mono" : "Liberation Sans";
  const measure = ch => {
    if (!metrics[ch]) {
      ctx.font = `bold 100px '${fontOf(ch)}'`;
      metrics[ch] = ctx.measureText(ch);
    }
    return metrics[ch];
  };
  const letterColor = ch => {
    if ("GSTYC".includes(ch)) return "#0f8a3c";
    if ("NQ".includes(ch)) return "#4b1d8f";
    if ("KRH".includes(ch)) return "#13538f";
    if ("DE".includes(ch)) return "#c8102e";
    return "#111";
  };
  const x = d3.scaleBand().domain(logoPositions).range([34, 485]);

  [[logoYKN, 767, 853], [logoFKN, 872, 957], [logoGKS, 974, 1059]].forEach(row => {
    const logo = row[0];
    const y = d3.scaleLinear().domain([0, 100]).range([row[1], row[2]]);
    logo.forEach((col, j) => {
      const items = col.split(" ").map(s => ({ ch: s[0], h: +s.slice(1) }));
      const total = d3.sum(items, d => d.h);
      let acc = 0;
      items.forEach(it => {
        const share = it.h / total * 100;
        const m = measure(it.ch);
        const inkW = m.actualBoundingBoxRight + m.actualBoundingBoxLeft;
        const inkH = m.actualBoundingBoxAscent + m.actualBoundingBoxDescent;
        const sx = (x.bandwidth() - .8) / inkW;
        const sy = (y(acc + share) - y(acc)) / inkH;
        const left = x(logoPositions[j]) + .4;
        const base = y(acc + share);
        g.append("text").text(it.ch)
          .attr("transform", `translate(${left},${base}) scale(${sx},${sy}) translate(${m.actualBoundingBoxLeft},${-m.actualBoundingBoxDescent})`)
          .attr("font-size", 100).attr("font-weight", "bold")
          .style("font-family", fontOf(it.ch))
          .style("fill", letterColor(it.ch));
        acc += share;
      });
    });
    logoPositions.forEach(p => {
      label(g, x(p) + x.bandwidth() / 2, row[2] + 11, p, 8.6, { anchor: "middle" });
    });
  });
}

/* Panels H and I - grouped bars with p values */
function drawStructureBars(g) {
  const blue = "#4899cd", orange = "#e0904f";
  const barW = 25.7, gap = 6;

  function panel(cats, a, b, ps, axisX, axisEnd, yDomain, ticks, x0range, barWidth, barGap, fmt, title, titleX) {
    const x0 = d3.scaleBand().domain(cats).range(x0range);
    const y = d3.scaleLinear().domain(yDomain).range([1042.7, 810.7]);
    cats.forEach((c, i) => {
      const mid = x0(c) + x0.bandwidth() / 2;
      [[a[i], mid - barGap / 2 - barWidth, blue, "#3d8fc7"], [b[i], mid + barGap / 2, orange, "#df8440"]].forEach(s => {
        g.append("rect").attr("x", s[1]).attr("y", y(s[0])).attr("width", barWidth).attr("height", y(0) - y(s[0]))
          .attr("fill", s[2]).attr("stroke", s[3]).attr("stroke-width", .8);
        label(g, s[1] + barWidth / 2, y(s[0]) - 3, s[0], 8, { anchor: "middle" }).style("fill", "#222");
      });
      const top = y(Math.max(a[i], b[i]));
      const xa = mid - barGap / 2 - barWidth / 2, xb = mid + barGap / 2 + barWidth / 2;
      const by = top - 15;
      g.append("path").attr("d", `M${xa},${by + 3}V${by}H${xb}V${by + 3}`).attr("fill", "none").attr("stroke", "#444").attr("stroke-width", .7);
      label(g, mid, by - 2, ps[i], 8.1, { anchor: "middle" }).style("fill", "#222");
    });
    const axX = g.append("g").attr("transform", "translate(0,1042.7)").call(d3.axisBottom(x0).tickSize(0));
    axX.select(".domain").attr("d", `M${axisX},0H${axisEnd}`);
    axX.selectAll("text").attr("font-size", 8.6).attr("font-family", "DejaVu Sans").attr("dy", "0.9em").style("fill", "#222");
    const axY = g.append("g").attr("transform", `translate(${axisX},0)`).call(d3.axisLeft(y).tickValues(ticks).tickFormat(fmt).tickSize(2.5));
    axY.selectAll("text").attr("font-size", 8.8).attr("font-family", "DejaVu Sans");
    [axX, axY].forEach(ax => ax.selectAll("path,line").attr("stroke", "#444").attr("stroke-width", 1));
    vLabel(g, titleX, 927, title, 9.6);
  }

  panel(structureTypes, unmodifiedProb, modifiedProb, structurePvalues, 590.7, 845, [0, .8], [0, .2, .4, .6, .8],
    [599, 837.2], barW, gap, d3.format(".1f"), "Mean Secondary Structure Probability", 569);
  panel(["Surface accessibility"], unmodifiedAccess, modifiedAccess, accessPvalues, 878.3, 963, [0, 50], [0, 10, 20, 30, 40, 50],
    [878.3, 963.7], 23, 5.3, d3.format("d"), "Surface Accessibility", 860);

  g.append("rect").attr("x", 699.5).attr("y", 1076).attr("width", 11.5).attr("height", 10.5).attr("fill", blue).attr("stroke", "#3d8fc7").attr("stroke-width", .6);
  label(g, 716, 1084.5, "Un-modified Lys", 8.7).style("fill", "#333");
  g.append("rect").attr("x", 790).attr("y", 1076).attr("width", 11.5).attr("height", 10.5).attr("fill", orange).attr("stroke", "#df8440").attr("stroke-width", .6);
  label(g, 806, 1084.5, "Modified Lys", 8.7).style("fill", "#333");
}

/* Panel J - annotated counts */
function drawCountBars(g) {
  const x0 = d3.scaleBand().domain(databases).range([1056, 1246]);
  const y = d3.scaleLinear().domain([0, 2000]).range([1045, 813.7]);
  const barW = 14.4;
  const series = [["Protein", proteinCounts, "#4dab4a"], ["Site", siteCounts, "#8f4a9a"]];
  series.forEach((s, k) => {
    databases.forEach((db, i) => {
      const left = x0(db) + x0.bandwidth() / 2 + (k - 1) * barW;
      g.append("rect").attr("x", left).attr("y", y(s[1][i])).attr("width", barW).attr("height", y(0) - y(s[1][i]))
        .attr("fill", s[2]).attr("stroke", "#161616").attr("stroke-width", .9);
      label(g, left + barW / 2, y(s[1][i]) - 2, s[1][i], 7.7, { anchor: "middle" });
    });
  });
  const axX = g.append("g").attr("transform", "translate(0,1045)").call(d3.axisBottom(x0).tickSize(0));
  axX.select(".domain").attr("d", "M1051,0H1250.7");
  axX.selectAll("text").attr("font-size", 9).attr("font-family", "Liberation Sans").attr("dy", "0.95em");
  const axY = g.append("g").attr("transform", "translate(1051,0)").call(d3.axisLeft(y).tickValues([0, 500, 1000, 1500, 2000]).tickSize(3).tickFormat(d3.format("d")));
  axY.select(".domain").attr("d", "M0,790.7V1045");
  axY.selectAll("text").attr("font-size", 9.4).attr("font-family", "Liberation Sans");
  [axX, axY].forEach(a => a.selectAll("path,line").attr("stroke", "#333").attr("stroke-width", 1));
  vLabel(g, 1022, 917, "Count", 12.5);
  series.forEach((s, k) => {
    g.append("rect").attr("x", 1266).attr("y", 905.5 + k * 15.7).attr("width", 14.6).attr("height", 14.6)
      .attr("fill", s[2]).attr("stroke", "#222").attr("stroke-width", .8);
    label(g, 1287, 917 + k * 15.7, s[0], 10.5);
  });
}
</script>
</body>
</html>
